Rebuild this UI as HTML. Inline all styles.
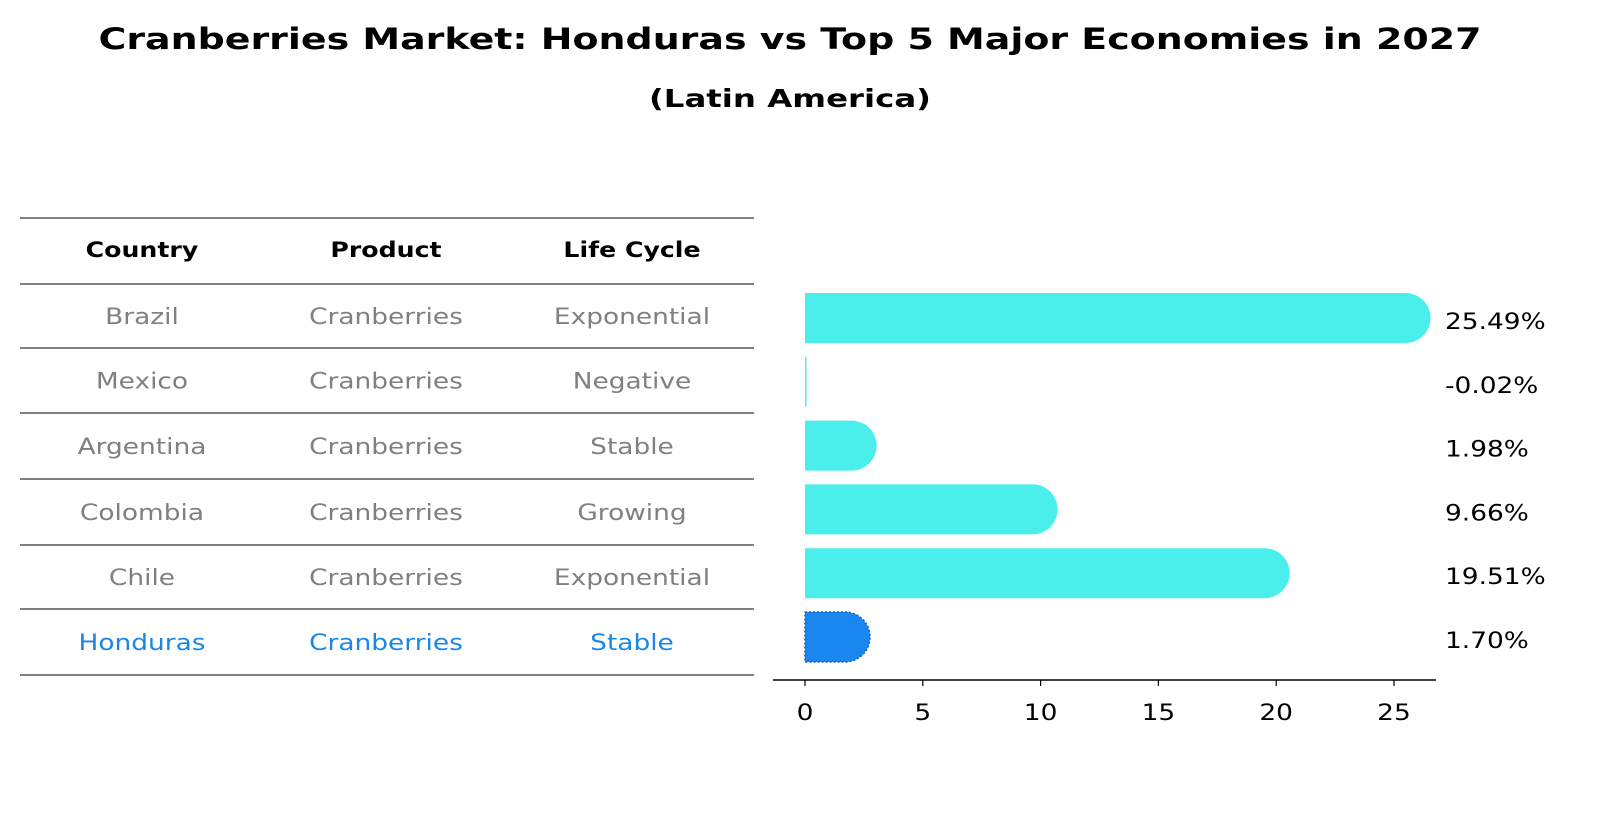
<!DOCTYPE html>
<html><head><meta charset="utf-8"><style>
html,body{margin:0;padding:0;overflow:hidden;background:#fff;width:1604px;height:823px;}
svg{display:block;}
svg text{font-family:"DejaVu Sans","Liberation Sans",sans-serif;}
</style></head><body>
<svg width="1604" height="823" viewBox="0 0 1604 823">
<text x="790" y="49" text-anchor="middle" font-size="29" font-weight="bold" textLength="1383" lengthAdjust="spacingAndGlyphs">Cranberries Market: Honduras vs Top 5 Major Economies in 2027</text>
<text x="790" y="107" text-anchor="middle" font-size="25" font-weight="bold" textLength="282" lengthAdjust="spacingAndGlyphs">(Latin America)</text>
<g id="table"></g>
<g id="bars"></g>
</svg>
<script>
const countries=["Brazil","Mexico","Argentina","Colombia","Chile","Honduras"];
const products=["Cranberries","Cranberries","Cranberries","Cranberries","Cranberries","Cranberries"];
const lifecycles=["Exponential","Negative","Stable","Growing","Exponential","Stable"];
const values=[25.49,-0.02,1.98,9.66,19.51,1.70];
const labels=["25.49%","-0.02%","1.98%","9.66%","19.51%","1.70%"];
const ticks=[0,5,10,15,20,25];
const NS="http://www.w3.org/2000/svg";
const toScale=[];
function mk(t,a,p){const e=document.createElementNS(NS,t);for(const k in a)e.setAttribute(k,a[k]);p.appendChild(e);return e;}
const tbl=document.getElementById('table');
const lineYs=[218,284,348,413,479,545,609,675];
lineYs.forEach(y=>{const l=mk('line',{x1:20,x2:754,y1:y,y2:y,stroke:'#000','stroke-width':1},tbl);

});
const colX=[142,386,632];
["Country","Product","Life Cycle"].forEach((h,i)=>{const t=mk('text',{x:colX[i],y:257,'text-anchor':'middle','font-size':21,'font-weight':'bold'},tbl);t.textContent=h;

toScale.push(t);});
countries.forEach((c,r)=>{const y=(lineYs[r+1]+lineYs[r+2])/2+8;const col=c==="Honduras"?"#1a87e6":"#808080";
[c,products[r],lifecycles[r]].forEach((v,i)=>{const t=mk('text',{x:colX[i],y:y,'text-anchor':'middle','font-size':22,fill:col},tbl);t.textContent=v;

toScale.push(t);});});
const g=document.getElementById('bars');
const x0=805,ppu=23.56;
const xs=v=>x0+v*ppu;
const ys=i=>318+i*63.8;
const bh=50,r=25;
values.forEach((v,i)=>{const cy=ys(i);const isH=countries[i]==="Honduras";const fill=isH?"#1a87f0":"#4aeeea";
let el;
if(Math.abs(v)<0.1){el=mk('rect',{x:x0,y:cy-bh/2,width:1.5,height:bh,fill:fill},g);}
else{const xe=xs(v);el=mk('path',{d:`M${x0},${cy-bh/2} L${xe},${cy-bh/2} A${r},${r} 0 0 1 ${xe},${cy+bh/2} L${x0},${cy+bh/2} Z`,fill:fill},g);
if(isH){el.setAttribute('stroke','#1560c0');el.setAttribute('stroke-dasharray','2,2');el.setAttribute('stroke-width','1.5');}}


const t=mk('text',{x:1445,y:cy+11,'font-size':22},g);t.textContent=labels[i];

toScale.push(t);});
const ax=mk('line',{x1:773,x2:1436,y1:680,y2:680,stroke:'#000','stroke-width':1.5},g);


ticks.forEach(tv=>{const x=xs(tv);const tk=mk('line',{x1:x,x2:x,y1:680,y2:686,stroke:'#000','stroke-width':1.2},g);


const t=mk('text',{x:x,y:720,'text-anchor':'middle','font-size':22},g);t.textContent=tv;

toScale.push(t);});
toScale.forEach(t=>{try{const w=t.getComputedTextLength();if(w>0){t.setAttribute('textLength',(w*1.2).toFixed(1));t.setAttribute('lengthAdjust','spacingAndGlyphs');}}catch(e){}});
</script>
</body></html>
